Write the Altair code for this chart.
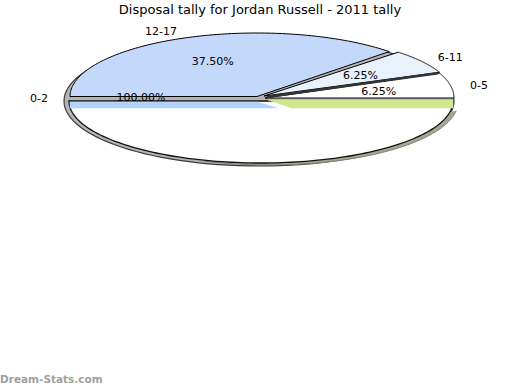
import altair as alt
import pandas as pd

# ---- data ----
categories = ["12-17", "6-11", "0-5", "0-2"]
percent = [37.50, 6.25, 6.25, 100.00]
pct_labels = ["37.50%", "6.25%", "6.25%", "100.00%"]
title_text = "Disposal tally for Jordan Russell - 2011 tally"
watermark = "Dream-Stats.com"

# ---- slice angles derived from the values (clockwise from 9 o'clock) ----
spans = [p * 3.6 for p in percent[:3]]
spans.append(360 - sum(spans))
starts, ends = [], []
a = 180.0
for s in spans:
    starts.append(a)
    ends.append(a - s)
    a -= s

# ---- geometry / style (not data) ----
geom = {
    "12-17": dict(cx=257, cy=96.5, rx=187, ry=63.5, fill="#c4d8fc"),
    "6-11": dict(cx=264, cy=96, rx=190, ry=62, fill="#e9f1fd"),
    "0-5": dict(cx=265, cy=98, rx=189, ry=65, fill="#ffffff"),
    "0-2": dict(cx=261, cy=101, rx=192, ry=62, fill="#ffffff"),
}
label_angle_override = {"0-2": 180.0}
label_center_from = {"0-2": "12-17"}
N = 120

rows = []


def add_arc_poly(shape, cx, cy, rx, ry, a0, a1, center=True):
    o = 0
    if center:
        rows.append(dict(shape=shape, o=o, a0=a0, a1=a1, t=0, k=0, cx=cx, cy=cy, rx=rx, ry=ry, ox=0, oy=0))
        o += 1
    for i in range(N + 1):
        rows.append(dict(shape=shape, o=o, a0=a0, a1=a1, t=i / N, k=1, cx=cx, cy=cy, rx=rx, ry=ry, ox=0, oy=0))
        o += 1
    if center:
        rows.append(dict(shape=shape, o=o, a0=a0, a1=a1, t=0, k=0, cx=cx, cy=cy, rx=rx, ry=ry, ox=0, oy=0))


def add_offset_poly(shape, cx, cy, offsets):
    for o, (ox, oy) in enumerate(offsets + [offsets[0]]):
        rows.append(dict(shape=shape, o=o, a0=0, a1=0, t=0, k=0, cx=cx, cy=cy, rx=0, ry=0, ox=ox, oy=oy))


# shadows
add_arc_poly("shadow_a", 259, 101, 195, 65, 0, 360, center=False)
add_arc_poly("shadow_b", 269, 102, 189, 63, -8, -110, center=False)
# slices
for c, s, e in zip(categories, starts, ends):
    g = geom[c]
    add_arc_poly(c, g["cx"], g["cy"], g["rx"], g["ry"], s, e)
# side walls
g02, g1217, g05 = geom["0-2"], geom["12-17"], geom["0-5"]
add_offset_poly("wall_02", g02["cx"], g02["cy"],
                [(-g02["rx"] + 1, 1), (-3, 1), (16, 7), (-g02["rx"] + 1, 7)])
add_offset_poly("wall_05", g05["cx"], g05["cy"],
                [(3, 2), (g05["rx"] - 1, 2), (g05["rx"] - 1, 10), (27, 10)])
# dark edge under 6-11
g611 = geom["6-11"]
rows.append(dict(shape="edge", o=0, a0=ends[1], a1=ends[1], t=0, k=0, cx=g611["cx"] + 3, cy=g611["cy"] + 1,
                 rx=g611["rx"], ry=g611["ry"], ox=0, oy=0))
rows.append(dict(shape="edge", o=1, a0=ends[1], a1=ends[1], t=0, k=1, cx=g611["cx"] + 1, cy=g611["cy"] + 1,
                 rx=g611["rx"] - 3, ry=g611["ry"], ox=0, oy=0))

shapes = pd.DataFrame(rows)

labels = []
for c, p, s, e in zip(categories, pct_labels, starts, ends):
    g = geom[label_center_from.get(c, c)]
    mid = label_angle_override.get(c, (s + e) / 2)
    labels.append(dict(cat=c, pct=p, mid=mid, cx=g["cx"], cy=g["cy"]))
labels = pd.DataFrame(labels)

xs = alt.Scale(domain=[0, 520], range=[0, 520], nice=False, zero=False)
ys = alt.Scale(domain=[0, 390], range=[0, 390], nice=False, zero=False)


def poly(name, fill, stroke, sw=1.0):
    return (
        alt.Chart(shapes)
        .transform_filter(alt.datum.shape == name)
        .transform_calculate(ang="(datum.a0 + (datum.a1 - datum.a0) * datum.t) * PI / 180")
        .transform_calculate(
            px="datum.cx + datum.k * datum.rx * cos(datum.ang) + datum.ox",
            py="datum.cy - datum.k * datum.ry * sin(datum.ang) + datum.oy",
        )
        .mark_line(fill=fill, stroke=stroke, strokeWidth=sw, interpolate="linear", strokeJoin="miter")
        .encode(
            x=alt.X("px:Q", scale=xs, axis=None),
            y=alt.Y("py:Q", scale=ys, axis=None),
            order=alt.Order("o:Q"),
        )
    )


layers = [
    poly("shadow_a", "#b4b4b4", "#3c3c3c", 1.2),
    poly("shadow_b", "#a3a793", "#7d8172", 1.0),
    poly("0-2", "#ffffff", "#111111", 1.3),
    poly("wall_02", "#b3d3fa", "#b3d3fa", 0.5),
    poly("wall_05", "#cde88f", "#cde88f", 0.5),
    poly("0-5", "#ffffff", "#000000", 1.0),
    poly("6-11", geom["6-11"]["fill"], "#000000", 1.0),
    poly("edge", "transparent", "#333333", 2.5),
    poly("12-17", geom["12-17"]["fill"], "#000000", 1.0),
]

font = "DejaVu Sans"


def outer(side, align):
    return (
        alt.Chart(labels)
        .transform_calculate(
            lx="datum.cx + 209 * cos(datum.mid * PI / 180)",
            ly="datum.cy - 72 * sin(datum.mid * PI / 180) + 2",
            side="cos(datum.mid * PI / 180) >= 0 ? 'R' : 'L'",
        )
        .transform_filter(alt.datum.side == side)
        .mark_text(font=font, fontSize=11, color="#000000", baseline="middle", align=align)
        .encode(x=alt.X("lx:Q", scale=xs, axis=None), y=alt.Y("ly:Q", scale=ys, axis=None), text="cat:N")
    )


inner = (
    alt.Chart(labels)
    .transform_calculate(
        lx="datum.cx + 116 * cos(datum.mid * PI / 180)",
        ly="datum.cy - 38 * sin(datum.mid * PI / 180) + 1",
    )
    .mark_text(font=font, fontSize=11, color="#000000", align="center", baseline="middle")
    .encode(x=alt.X("lx:Q", scale=xs, axis=None), y=alt.Y("ly:Q", scale=ys, axis=None), text="pct:N")
)
title = (
    alt.Chart(pd.DataFrame({"t": [title_text]}))
    .mark_text(font=font, fontSize=13, color="#000000", align="center", baseline="middle")
    .encode(x=alt.value(260), y=alt.value(10), text="t:N")
)
wm = (
    alt.Chart(pd.DataFrame({"t": [watermark]}))
    .mark_text(font=font, fontSize=10.5, fontWeight="bold", color="#a0a0a0", align="left", baseline="middle")
    .encode(x=alt.value(0), y=alt.value(380), text="t:N")
)

chart = (
    alt.layer(*layers, outer("R", "left"), outer("L", "right"), inner, title, wm)
    .properties(width=520, height=390, autosize=alt.AutoSizeParams(type="none"), padding=0,
                background="#ffffff")
    .configure_view(stroke=None)
)

chart.save("out.html", embed_options={"renderer": "svg", "actions": False})
